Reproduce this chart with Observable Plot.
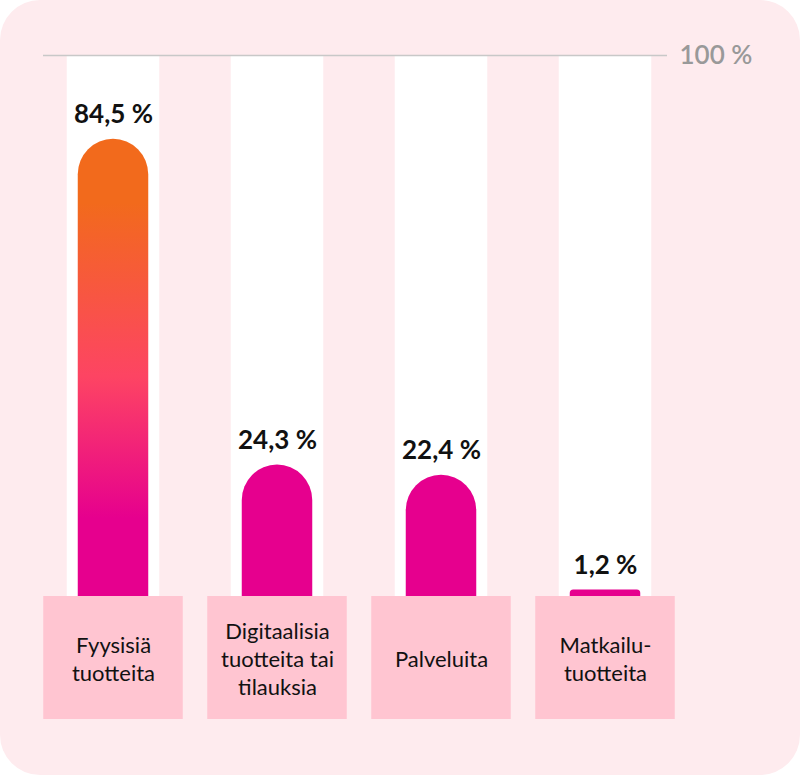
<!DOCTYPE html>
<html>
<head>
<meta charset="utf-8">
<script src="https://cdn.jsdelivr.net/npm/d3@7"></script>
<script src="https://cdn.jsdelivr.net/npm/@observablehq/plot@0.6"></script>
<style>
  html, body { margin: 0; padding: 0; background: #ffffff; }
  #chart svg { display: block; background: #feebee; border-radius: 40px; }
</style>
</head>
<body>
<div id="chart"></div>
<script>
// Data
const categories = ["Fyysisiä\ntuotteita", "Digitaalisia\ntuotteita tai\ntilauksia", "Palveluita", "Matkailu-\ntuotteita"];
const values = [84.5, 24.3, 22.4, 1.2];
const maxValue = 100;
const maxLabel = "100 %";

const data = categories.map((c, i) => ({category: c, value: values[i]}));
const fmt = v => v.toFixed(1).replace(".", ",") + " %";

const MAGENTA = "#e6008e";
const FONT = "Lato, 'Source Sans Pro', sans-serif";

const gradientDefs = (index, scales) => {
  const top = scales.y(values[0]);
  const base = scales.y(0);
  const defs = d3.create("svg:defs");
  const g = defs.append("linearGradient")
    .attr("id", "barGrad")
    .attr("gradientUnits", "userSpaceOnUse")
    .attr("x1", 0).attr("x2", 0)
    .attr("y1", top).attr("y2", base);
  [[0, "#f26a1c"], [0.14, "#f26a1c"], [0.52, "#fd4463"], [0.83, MAGENTA], [1, MAGENTA]]
    .forEach(([o, c]) => g.append("stop").attr("offset", o).attr("stop-color", c));
  return defs.node();
};

const chart = Plot.plot({
  width: 800,
  height: 775,
  marginLeft: 43,
  marginRight: 133,
  marginTop: 0,
  marginBottom: 0,
  style: {fontFamily: FONT, background: "#feebee"},
  x: {type: "band", domain: categories, range: [29.5, 687.5], padding: 0, axis: null},
  y: {domain: [0, maxValue], range: [596, 55], axis: null},
  marks: [
    gradientDefs,
    // white column backgrounds
    Plot.barY(categories, {x: d => d, y1: 0, y2: maxValue, fill: "white", insetLeft: 35.75, insetRight: 35.75}),
    // 100 % reference line
    Plot.ruleY([maxValue], {stroke: "#c8c8c8", strokeWidth: 1.5}),
    Plot.text([maxValue], {y: d => d, text: () => maxLabel, frameAnchor: "right", textAnchor: "start", dx: 12, fill: "#999999", fontSize: 26, fontWeight: 600}),
    // bars (extended below baseline, hidden by label boxes)
    Plot.barY(data.filter((d, i) => i === 0), {x: "category", y: "value", fill: "url(#barGrad)", insetLeft: 46.75, insetRight: 46.75, insetBottom: -40, rx: 35.5}),
    Plot.barY(data.filter((d, i) => i > 0 && d.value >= 10), {x: "category", y: "value", fill: MAGENTA, insetLeft: 46.75, insetRight: 46.75, insetBottom: -40, rx: 35.5}),
    Plot.barY(data.filter(d => d.value < 10), {x: "category", y: "value", fill: MAGENTA, insetLeft: 46.75, insetRight: 46.75, insetBottom: -10, rx: 3.5}),
    // value labels
    Plot.text(data, {x: "category", y: "value", text: d => fmt(d.value), dy: -16, lineAnchor: "bottom", fontSize: 26, fontWeight: 700, fill: "#111"}),
    // category label boxes
    Plot.barY(categories, {x: d => d, y1: 0, y2: 0, insetBottom: -123, fill: "#ffc5d1", insetLeft: 12.25, insetRight: 12.25}),
    Plot.text(categories, {x: d => d, y: 0, text: d => d, dy: 61.5, lineAnchor: "middle", lineHeight: 1.27, fontSize: 22, fill: "#111"})
  ]
});
document.getElementById("chart").appendChild(chart);
</script>
</body>
</html>
